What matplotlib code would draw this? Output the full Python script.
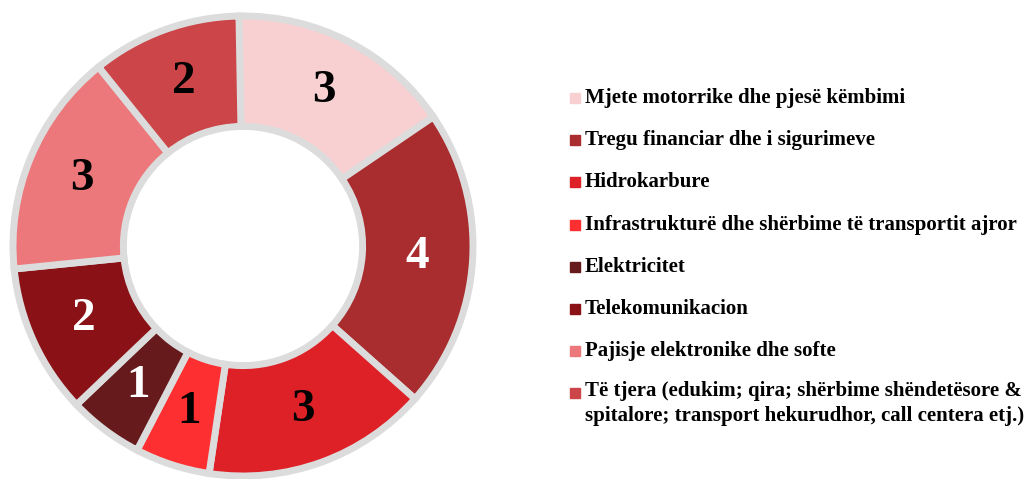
import matplotlib.pyplot as plt
from matplotlib.patches import Rectangle

# sectors and number of cases
categories = [
    "Mjete motorrike dhe pjesë këmbimi",
    "Tregu financiar dhe i sigurimeve",
    "Hidrokarbure",
    "Infrastrukturë dhe shërbime të transportit ajror",
    "Elektricitet",
    "Telekomunikacion",
    "Pajisje elektronike dhe softe",
    "Të tjera (edukim; qira; shërbime shëndetësore &\nspitalore; transport hekurudhor, call centera etj.)",
]
values = [3, 4, 3, 1, 1, 2, 3, 2]
colors = ["#f8d0d2", "#a92d2f", "#de2027", "#fe2f30",
          "#661a1c", "#8a1217", "#ec787c", "#cc4649"]
label_colors = ["black", "white", "black", "black",
                "white", "white", "black", "black"]

W, H = 1036, 479
fig = plt.figure(figsize=(W / 100, H / 100), dpi=100)

# donut axes: centre ~(243, 246) px, outer radius ~230 px
R = 230
cx, cy = 243, 246
ax = fig.add_axes([(cx - R) / W, (H - cy - R) / H, 2 * R / W, 2 * R / H])
wedges, texts = ax.pie(
    values, colors=colors, startangle=91, counterclock=False,
    radius=1, labels=[str(v) for v in values], labeldistance=0.76,
    wedgeprops=dict(width=0.48, edgecolor="#dcdcdc", linewidth=5),
)
for t, c in zip(texts, label_colors):
    t.set_color(c)
    t.set_fontfamily("Liberation Serif")
    t.set_fontweight("bold")
    t.set_fontsize(34)
    t.set_ha("center")
    t.set_va("center")
ax.set_xlim(-1, 1)
ax.set_ylim(-1, 1)
ax.set_aspect("equal")
ax.axis("off")

# legend drawn by hand so the two-line entry keeps its box on the first line
y0 = 98
step = 42.2
for i, (lab, col) in enumerate(zip(categories, colors)):
    y = y0 + i * step
    fig.patches.append(Rectangle((570 / W, (H - y - 5) / H), 10 / W, 10 / H,
                                 color=col, transform=fig.transFigure))
    if "\n" in lab:
        fig.text(585 / W, (H - y + 12) / H, lab, fontsize=15, fontweight="bold",
                 family="Liberation Serif", va="top", linespacing=1.3)
    else:
        fig.text(585 / W, (H - y) / H, lab, fontsize=15, fontweight="bold",
                 family="Liberation Serif", va="center")

fig.savefig("out.png", dpi=100)
